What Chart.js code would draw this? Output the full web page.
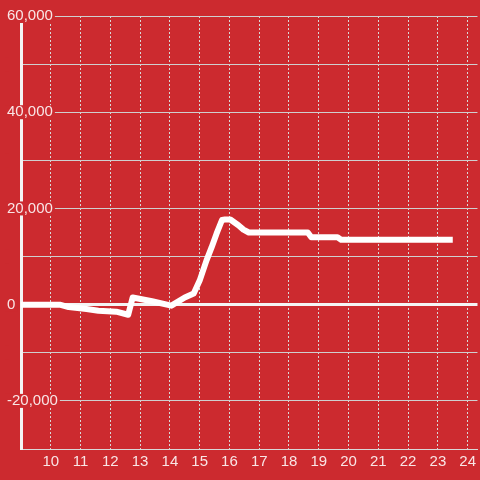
<!DOCTYPE html>
<html lang="en">
<head>
  <meta charset="UTF-8">
  <title>Hourly balance</title>
  <script src="https://cdn.jsdelivr.net/npm/chart.js"></script>
  <style>
    html, body { margin: 0; padding: 0; background: #cc2a2f; }
    #wrap { width: 480px; height: 480px; }
  </style>
</head>
<body>
  <div id="wrap"><canvas id="balanceChart"></canvas></div>

  <script>
    // Values
    const hours = [9, 10.3, 10.6, 11.2, 11.6, 12.2, 12.6, 12.75, 13.4, 14.05, 14.5, 14.8,
                   15.0, 15.23, 15.4, 15.57, 15.75, 15.85, 16.03, 16.3, 16.47, 16.65,
                   18.63, 18.75, 19.63, 19.75, 23.5];
    const balance = [0, 0, -500, -900, -1250, -1450, -2100, 1500, 700, -200, 1500, 2300,
                     5000, 9200, 11900, 14800, 17600, 17700, 17700, 16500, 15600, 15000,
                     15000, 14000, 14000, 13500, 13500];
    const yLabelled = [60000, 40000, 20000, 0, -20000];

    const bgRed = '#cc2a2f';
    const labelColor = 'rgba(255,255,255,0.88)';
    const labelFont = { family: '"Liberation Sans", Arial, sans-serif', size: 15 };

    const ctx = document.getElementById('balanceChart').getContext('2d');

    new Chart(ctx, {
      type: 'line',
      data: {
        datasets: [{
          data: hours.map((h, i) => ({ x: h, y: balance[i] })),
          borderColor: '#ffffff',
          borderWidth: 6,
          borderCapStyle: 'butt',
          borderJoinStyle: 'round',
          pointRadius: 0,
          tension: 0,
          fill: false,
        }],
      },
      options: {
        responsive: true,
        maintainAspectRatio: false,
        animation: false,
        layout: { padding: { top: 16, bottom: 5, left: 1, right: -3 } },
        plugins: {
          legend: { display: false },
          tooltip: { enabled: false },
        },
        scales: {
          x: {
            type: 'linear',
            min: 9,
            max: 24.33,
            grid: { color: '#d8d8d8', lineWidth: 1, drawTicks: false },
            border: { color: '#d8d8d8', width: 1, dash: [2, 2] },
            ticks: {
              stepSize: 1,
              includeBounds: false,
              autoSkip: false,
              maxRotation: 0,
              padding: 4,
              color: labelColor,
              font: labelFont,
              callback: v => (v === 9 ? '' : v),
            },
          },
          y: {
            min: -30000,
            max: 60000,
            afterFit: scale => { scale.width = 20; },
            grid: {
              drawTicks: false,
              color: c => (c.tick && c.tick.value === 0 ? '#f4f4f4' : '#cfcfcf'),
              lineWidth: c => (c.tick && c.tick.value === 0 ? 3 : 1),
            },
            border: { color: '#f4f4f4', width: 3 },
            ticks: {
              stepSize: 10000,
              mirror: true,
              crossAlign: 'near',
              padding: -14,
              color: labelColor,
              font: labelFont,
              showLabelBackdrop: true,
              backdropColor: bgRed,
              backdropPadding: { top: -2, bottom: -2, left: 2, right: 2 },
              callback: v => (yLabelled.includes(v) ? v.toLocaleString('en-US') : ''),
            },
          },
        },
      },
    });
  </script>
</body>
</html>
